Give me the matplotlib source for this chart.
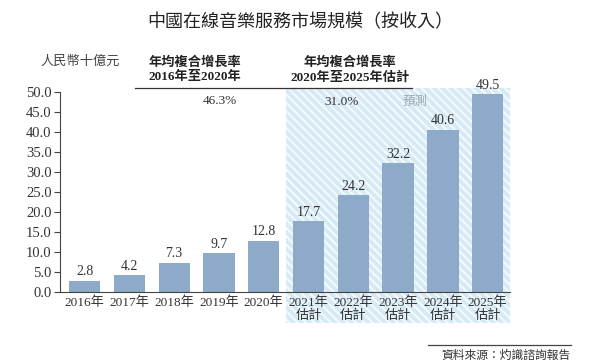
import matplotlib
matplotlib.use("Agg")
import matplotlib.pyplot as plt
import matplotlib.transforms as mtransforms
from matplotlib.patches import Rectangle
import numpy as np

years = ["2016年", "2017年", "2018年", "2019年", "2020年",
         "2021年\n估計", "2022年\n估計", "2023年\n估計", "2024年\n估計", "2025年\n估計"]
values = [2.8, 4.2, 7.3, 9.7, 12.8, 17.7, 24.2, 32.2, 40.6, 49.5]
yticks = [0.0, 5.0, 10.0, 15.0, 20.0, 25.0, 30.0, 35.0, 40.0, 45.0, 50.0]
cagr = ["46.3%", "31.0%"]

MIX = ["Liberation Serif", "Noto Sans CJK TC"]
CJK = ["Noto Sans CJK TC", "DejaVu Sans"]
TXT = "#333333"

plt.rcParams["hatch.linewidth"] = 1.5

fig = plt.figure(figsize=(6, 3.64), dpi=100)
ax = fig.add_axes([0.1, 0.198, 0.75, 0.549])

x = np.arange(len(values))

# forecast shaded area (goes down over the tick labels)
trans = mtransforms.blended_transform_factory(ax.transData, fig.transFigure)
shade = Rectangle((4.5, 1 - 323 / 364), 5.0, (323 - 88) / 364, transform=trans,
                  facecolor="#d5eaf5", edgecolor="#f4fafd", hatch="\\\\\\\\",
                  linewidth=0, zorder=0, clip_on=False)
ax.add_patch(shade)

ax.bar(x, values, width=0.7, color="#8eaac9", zorder=2)
for xi, v in zip(x, values):
    ax.text(xi, v + 0.6, f"{v:.1f}", ha="center", va="bottom",
            fontsize=10, family=MIX, color=TXT)

ax.set_xlim(-0.55, 9.5)
ax.set_ylim(0, 50)
ax.set_yticks(yticks)
ax.set_yticklabels([f"{t:.1f}" for t in yticks], family=MIX, fontsize=10.5, color=TXT)
ax.set_xticks(x)
ax.set_xticklabels(years, family=MIX, fontsize=9.5, color=TXT, linespacing=1.1)
ax.tick_params(axis="x", length=0, pad=3)
ax.tick_params(axis="y", length=4, width=0.8, color="#444444", pad=2)
for s in ["top", "right"]:
    ax.spines[s].set_visible(False)
ax.spines["left"].set_color("#444444")
ax.spines["bottom"].set_color("#444444")
ax.spines["left"].set_linewidth(0.8)
ax.spines["bottom"].set_linewidth(0.8)
ax.patch.set_alpha(0)

# title and header texts
fig.text(0.5, 1 - 22 / 364, "中國在線音樂服務市場規模（按收入）", ha="center", va="center",
         fontsize=13, family=CJK, color="#222222")
fig.text(80 / 600, 1 - 62 / 364, "人民幣十億元", ha="center", va="center",
         fontsize=9.5, family=MIX, style="italic", color="#444444")
fig.text(195 / 600, 1 - 70 / 364, "年均複合增長率\n2016年至2020年", ha="center", va="center",
         fontsize=9.5, family=MIX, weight="bold", color="#222222", linespacing=1.25)
fig.text(350 / 600, 1 - 70 / 364, "年均複合增長率\n2020年至2025年估計", ha="center", va="center",
         fontsize=9.5, family=MIX, weight="bold", color="#222222", linespacing=1.25)
fig.add_artist(plt.Line2D([135 / 600, 412 / 600], [1 - 88 / 364, 1 - 88 / 364],
                          color="#333333", linewidth=0.9))
fig.text(220 / 600, 1 - 101 / 364, cagr[0], ha="center", va="center",
         fontsize=9.5, family=MIX, color=TXT)
fig.text(342 / 600, 1 - 102 / 364, cagr[1], ha="center", va="center",
         fontsize=9.5, family=MIX, color=TXT)
fig.text(415 / 600, 1 - 102 / 364, "預測", ha="center", va="center",
         fontsize=9, family=MIX, style="italic", color="#9aa7b5")

# source
fig.add_artist(plt.Line2D([428 / 600, 571 / 600], [1 - 345 / 364, 1 - 345 / 364],
                          color="#444444", linewidth=0.9))
fig.text(571 / 600, 1 - 356 / 364, "資料來源：灼識諮詢報告", ha="right", va="center",
         fontsize=8.5, family=MIX, color="#333333")

fig.savefig("out.png", dpi=100)
